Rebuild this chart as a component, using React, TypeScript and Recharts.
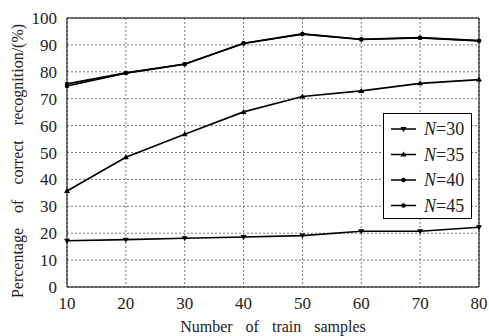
import React from "react";
import {
  CartesianGrid,
  Line,
  LineChart,
  ReferenceLine,
  XAxis,
  YAxis,
} from "recharts";

const trainSamples = [10, 20, 30, 40, 50, 60, 70, 80];
const n30 = [17.2, 17.6, 18.1, 18.6, 19.1, 20.7, 20.7, 22.2];
const n35 = [35.7, 48.2, 56.8, 65.1, 70.8, 72.9, 75.7, 77.1];
const n40 = [75.5, 79.6, 82.9, 90.6, 94.1, 92.1, 92.7, 91.6];
const n45 = [74.7, 79.5, 82.8, 90.5, 94.0, 92.0, 92.6, 91.5];
const seriesNames = ["N=30", "N=35", "N=40", "N=45"];
const yTicks = [0, 10, 20, 30, 40, 50, 60, 70, 80, 90, 100];

const data = trainSamples.map((x, i) => ({
  x,
  n30: n30[i],
  n35: n35[i],
  n40: n40[i],
  n45: n45[i],
}));

const FONT = "'Liberation Serif', 'Times New Roman', serif";

type Shape = "down" | "up" | "circle";
const shapes: Shape[] = ["down", "up", "circle", "circle"];

const Marker = ({ cx, cy, shape }: { cx: number; cy: number; shape: Shape }) => {
  if (cx == null || cy == null) return null;
  if (shape === "down")
    return <path d={`M${cx - 3},${cy - 2} L${cx + 3},${cy - 2} L${cx},${cy + 3} Z`} fill="#000" />;
  if (shape === "up")
    return <path d={`M${cx - 3},${cy + 2} L${cx + 3},${cy + 2} L${cx},${cy - 3} Z`} fill="#000" />;
  return <circle cx={cx} cy={cy} r={2.2} fill="#000" />;
};

const makeDot = (shape: Shape) => (props: any) => (
  <Marker key={`${shape}-${props.index}`} cx={props.cx} cy={props.cy} shape={shape} />
);

// legend is drawn outside recharts so it doesn't shrink the plot area
const LegendBox = () => (
  <div
    style={{
      position: "absolute",
      left: 383,
      top: 113,
      width: 89,
      height: 106,
      border: "1px solid #000",
      background: "#fff",
      boxSizing: "border-box",
    }}
  >
    <svg width={87} height={104} style={{ display: "block" }}>
      {seriesNames.map((name, i) => {
        const y = 15 + i * 25.5;
        return (
          <g key={name}>
            <line x1={7} x2={32} y1={y} y2={y} stroke="#000" strokeWidth={1.5} />
            <Marker cx={19.5} cy={y} shape={shapes[i]} />
            <text x={40} y={y + 6} style={{ fontFamily: FONT, fontSize: 18, fill: "#222" }}>
              <tspan fontStyle="italic">N</tspan>
              {name.slice(1)}
            </text>
          </g>
        );
      })}
    </svg>
  </div>
);

const tickStyle = { fontFamily: FONT, fontSize: 17, fill: "#222" };
const titleStyle = { fontFamily: FONT, fontSize: 16, fill: "#222", wordSpacing: 9 };

const XTitle = (props: any) => {
  const { x, width } = props.viewBox;
  return (
    <text x={x + width / 2} y={332} textAnchor="middle" style={titleStyle}>
      Number of train samples
    </text>
  );
};

const YTitle = () => (
  <text
    x={23}
    y={161}
    textAnchor="middle"
    transform="rotate(-90 23 161)"
    style={{ ...titleStyle, wordSpacing: 11 }}
  >
    Percentage of correct recognition/(%)
  </text>
);

export default function App() {
  return (
    <div style={{ position: "absolute", left: 0, top: 0, width: 489, height: 336, background: "#fff", fontFamily: FONT }}>
      <LineChart
        width={489}
        height={336}
        data={data}
        margin={{ top: 18, right: 10, bottom: 0, left: 0 }}
        style={{ fontFamily: FONT }}
      >
        <CartesianGrid stroke="#555" strokeDasharray="2 2" strokeWidth={0.8} />
        <XAxis
          dataKey="x"
          type="number"
          domain={[10, 80]}
          ticks={trainSamples}
          height={49}
          axisLine={{ stroke: "#000" }}
          tickLine={false}
          tickMargin={4}
          tick={{ ...tickStyle, style: tickStyle }}
          label={<XTitle />}
        />
        <YAxis
          type="number"
          domain={[0, 100]}
          ticks={yTicks}
          width={67}
          axisLine={{ stroke: "#000" }}
          tickLine={false}
          tickMargin={4}
          tick={{ ...tickStyle, style: tickStyle }}
          label={<YTitle />}
        />
        <ReferenceLine y={100} stroke="#000" />
        <ReferenceLine x={80} stroke="#000" />
        <Line dataKey="n30" name={seriesNames[0]} stroke="#000" strokeWidth={1.6} dot={makeDot("down")} isAnimationActive={false} />
        <Line dataKey="n35" name={seriesNames[1]} stroke="#000" strokeWidth={1.6} dot={makeDot("up")} isAnimationActive={false} />
        <Line dataKey="n40" name={seriesNames[2]} stroke="#000" strokeWidth={1.6} dot={makeDot("circle")} isAnimationActive={false} />
        <Line dataKey="n45" name={seriesNames[3]} stroke="#000" strokeWidth={1.6} dot={makeDot("circle")} isAnimationActive={false} />
      </LineChart>
      <LegendBox />
    </div>
  );
}
